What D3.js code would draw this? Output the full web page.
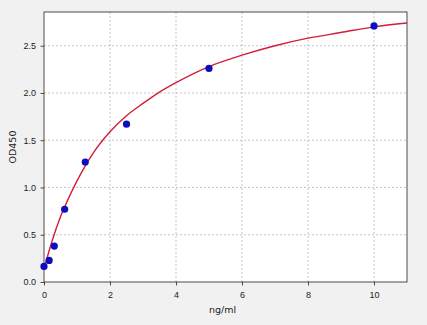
<!DOCTYPE html>
<html>
<head>
<meta charset="utf-8">
<script src="https://cdn.jsdelivr.net/npm/d3@7"></script>
<style>
  body { margin: 0; background: #f1f1f1; }
  svg { display: block; font-family: "DejaVu Sans", sans-serif; }
  .tick text { font-size: 9px; fill: #222; }
  .grid line { stroke: #b8b8b8; stroke-dasharray: 2,2; stroke-width: 0.8; }
  .axisTitle { font-size: 9.5px; fill: #222; }
</style>
</head>
<body>
<script>
// standards (ng/ml) and measured OD450
var conc = [0, 0.156, 0.312, 0.625, 1.25, 2.5, 5, 10];
var od   = [0.165, 0.228, 0.38, 0.77, 1.27, 1.67, 2.26, 2.71];

// fitted curve
var curveX = [0, 0.25, 0.5, 0.75, 1, 1.5, 2, 2.5, 3, 3.5, 4, 5, 6, 7, 8, 9, 10, 11];
var curveY = [0.14, 0.44, 0.69, 0.89, 1.07, 1.37, 1.59, 1.76, 1.89, 2.01, 2.11, 2.28, 2.40, 2.50, 2.58, 2.64, 2.70, 2.74];

var xTicks = [0, 2, 4, 6, 8, 10];
var yTicks = [0, 0.5, 1.0, 1.5, 2.0, 2.5];

var W = 427, H = 325;
var margin = {top: 12, right: 20, bottom: 43, left: 44};
var width = W - margin.left - margin.right,
    height = H - margin.top - margin.bottom;

var svg = d3.select("body").append("svg")
    .attr("width", W)
    .attr("height", H)
  .append("g")
    .attr("transform", "translate(" + margin.left + "," + margin.top + ")");

var x = d3.scaleLinear().domain([0, 11]).range([0, width]);
var y = d3.scaleLinear().domain([0, 2.857]).range([height, 0]);

// plot background
svg.append("rect")
  .attr("width", width)
  .attr("height", height)
  .attr("fill", "#fff");

// GRID
svg.append("g")
  .attr("class", "grid")
  .selectAll("line.gx")
  .data(xTicks.slice(1))
  .enter().append("line")
  .attr("x1", function(d) { return x(d); })
  .attr("x2", function(d) { return x(d); })
  .attr("y1", 0)
  .attr("y2", height);

svg.append("g")
  .attr("class", "grid")
  .selectAll("line.gy")
  .data(yTicks.slice(1))
  .enter().append("line")
  .attr("x1", 0)
  .attr("x2", width)
  .attr("y1", function(d) { return y(d); })
  .attr("y2", function(d) { return y(d); });

// AXES
var xaxis = svg.append("g")
  .attr("transform", "translate(0," + height + ")")
  .call(d3.axisBottom(x).tickValues(xTicks).tickFormat(d3.format("d")).tickSize(3.5).tickPadding(6.5));

var yaxis = svg.append("g")
  .call(d3.axisLeft(y).tickValues(yTicks).tickFormat(d3.format(".1f")).tickSize(3.5).tickPadding(4.5));

[xaxis, yaxis].forEach(function(a) {
  a.select(".domain").remove();
  a.selectAll(".tick line").attr("stroke", "#222").attr("stroke-width", 0.8);
});

// frame
svg.append("rect")
  .attr("width", width)
  .attr("height", height)
  .attr("fill", "none")
  .attr("stroke", "#222")
  .attr("stroke-width", 0.8);

// fitted curve
var line = d3.line()
  .x(function(d) { return x(d[0]); })
  .y(function(d) { return y(d[1]); })
  .curve(d3.curveMonotoneX);

svg.append("path")
  .datum(d3.zip(curveX, curveY))
  .attr("fill", "none")
  .attr("stroke", "#d21e3a")
  .attr("stroke-width", 1.4)
  .attr("d", line);

// data points
svg.append("g")
  .selectAll("circle")
  .data(d3.zip(conc, od))
  .enter().append("circle")
  .attr("cx", function(d) { return x(d[0]); })
  .attr("cy", function(d) { return y(d[1]); })
  .attr("r", 3.6)
  .attr("fill", "#0c0cc0");

// axis titles
svg.append("text")
  .attr("class", "axisTitle")
  .attr("x", width / 2 - 3)
  .attr("y", height + 30.5)
  .style("text-anchor", "middle")
  .text("ng/ml");

svg.append("text")
  .attr("class", "axisTitle")
  .attr("transform", "rotate(-90)")
  .attr("x", -height / 2)
  .attr("y", -28)
  .style("text-anchor", "middle")
  .text("OD450");
</script>
</body>
</html>
